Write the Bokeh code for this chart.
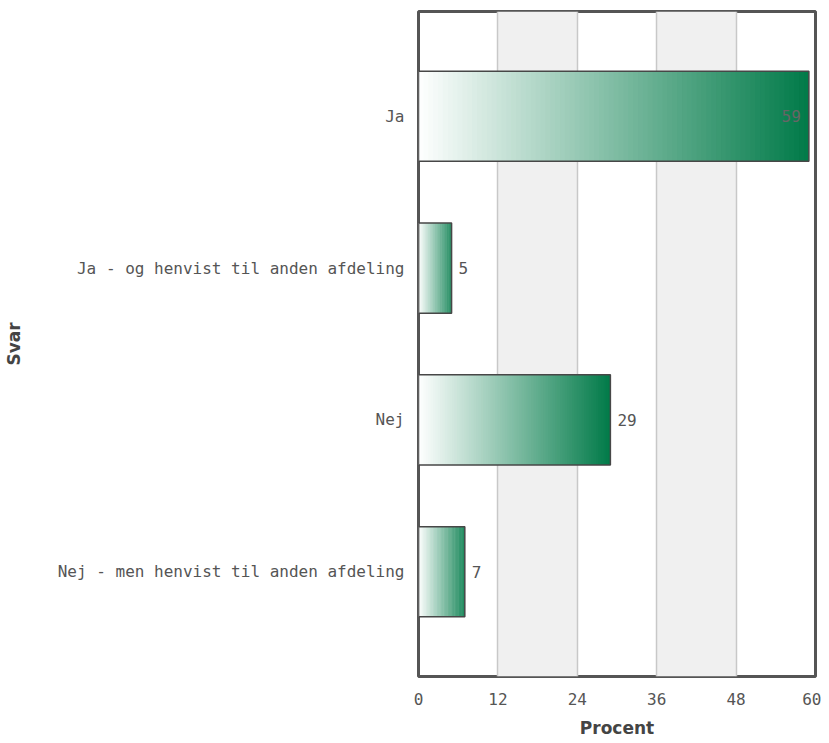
from bokeh.plotting import figure
from bokeh.models import FactorRange, Range1d, FixedTicker, ColumnDataSource
from bokeh.embed import file_html
from bokeh.resources import INLINE
from bokeh.core.properties import value

categories = ["Ja", "Ja - og henvist til anden afdeling", "Nej", "Nej - men henvist til anden afdeling"]
percent = [59, 5, 29, 7]
x_ticks = [0, 12, 24, 36, 48, 60]

MONO = value("DejaVu Sans Mono")
TEXT_COLOR = "#555555"

p = figure(
    output_backend="svg", toolbar_location=None,
    y_range=FactorRange(factors=list(reversed(categories)), range_padding=0.19,
                        range_padding_units="absolute"),
    x_range=Range1d(0, 60),
    frame_width=397, frame_height=665,
    min_border_left=410, min_border_right=6, min_border_top=11, min_border_bottom=59,
)
p.background_fill_color = "#ffffff"
p.border_fill_color = "#ffffff"
p.outline_line_color = "#555555"
p.outline_line_width = 3

# grid
p.ygrid.grid_line_color = None
p.xgrid.ticker = FixedTicker(ticks=x_ticks)
p.xgrid.grid_line_color = "#c8c8c8"
p.xgrid.grid_line_width = 1.5
p.xgrid.band_fill_color = "#f0f0f0"
p.xgrid.band_fill_alpha = 1.0

# gradient bars made of thin slices
N = 80
start = (255, 255, 255)
end = (0, 122, 72)
lefts, rights, ys, colors = [], [], [], []
for cat, v in zip(categories, percent):
    for k in range(N):
        t = (k + 0.5) / N
        c = tuple(int(round(s + (e - s) * t)) for s, e in zip(start, end))
        lefts.append(v * k / N)
        rights.append(min(v, v * (k + 1) / N + v * 0.004))
        ys.append(cat)
        colors.append("#%02x%02x%02x" % c)
p.hbar(y=ys, left=lefts, right=rights, height=0.594, fill_color=colors, line_color=None)
p.hbar(y=categories, left=0, right=percent, height=0.594, fill_color=None,
       line_color="#474747", line_width=1.5)

# value labels
inside = ColumnDataSource(dict(x=[v for v in percent if v > 55], y=[c for c, v in zip(categories, percent) if v > 55],
                               t=[str(v) for v in percent if v > 55]))
outside = ColumnDataSource(dict(x=[v for v in percent if v <= 55], y=[c for c, v in zip(categories, percent) if v <= 55],
                                t=[str(v) for v in percent if v <= 55]))
p.text(x="x", y="y", text="t", source=inside, x_offset=-8, text_align="right", text_baseline="middle",
       text_font=MONO, text_font_size="16px", text_color="#666666")
p.text(x="x", y="y", text="t", source=outside, x_offset=7, text_align="left", text_baseline="middle",
       text_font=MONO, text_font_size="16px", text_color=TEXT_COLOR)

# axes
p.xaxis.ticker = FixedTicker(ticks=x_ticks)
for ax in (p.xaxis[0], p.yaxis[0]):
    ax.axis_line_color = None
    ax.major_tick_line_color = None
    ax.minor_tick_line_color = None
    ax.major_label_text_font = "DejaVu Sans Mono"
    ax.major_label_text_font_size = "16px"
    ax.major_label_text_color = TEXT_COLOR
    ax.axis_label_text_font = "DejaVu Sans"
    ax.axis_label_text_font_style = "bold"
    ax.axis_label_text_font_size = "17px"
    ax.axis_label_text_color = "#444444"

p.xaxis.axis_label = "Procent"
p.xaxis.major_label_standoff = 10
p.xaxis.axis_label_standoff = 10
p.yaxis.axis_label = "Svar"
p.yaxis.major_label_standoff = 8
p.yaxis.axis_label_standoff = 31

open("out.html", "w").write(file_html(p, INLINE))
